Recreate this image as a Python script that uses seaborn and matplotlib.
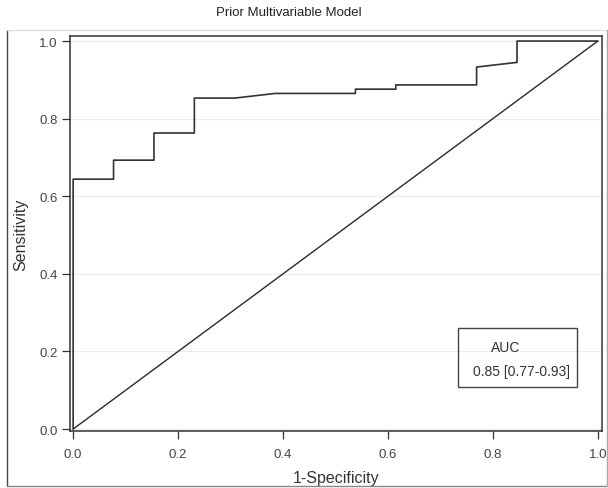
import numpy as np
import pandas as pd
import matplotlib
matplotlib.use("Agg")
import matplotlib.pyplot as plt
from matplotlib.patches import Rectangle
from matplotlib.lines import Line2D
import seaborn as sns

# ROC curve
fpr = [0.0, 0.0, 0.077, 0.077, 0.154, 0.154, 0.231, 0.231, 0.308, 0.385,
       0.538, 0.538, 0.615, 0.615, 0.769, 0.769, 0.846, 0.846, 1.0]
tpr = [0.0, 0.644, 0.644, 0.693, 0.693, 0.763, 0.763, 0.853, 0.853, 0.865,
       0.865, 0.876, 0.876, 0.887, 0.887, 0.933, 0.945, 1.0, 1.0]
ref_line = [0.0, 1.0]
ticks = [0.0, 0.2, 0.4, 0.6, 0.8, 1.0]
tick_labels = ["0.0", "0.2", "0.4", "0.6", "0.8", "1.0"]
title = "Prior Multivariable Model"
auc_header = "AUC"
auc_text = "0.85 [0.77-0.93]"

sns.set_theme(style="white")
plt.rcParams['font.family'] = ['Liberation Sans', 'DejaVu Sans']

fig = plt.figure(figsize=(6.08, 4.89), dpi=100)
ax = fig.add_axes([70/608, 57/489, 532/608, 395/489])

roc = pd.DataFrame({"fpr": fpr, "tpr": tpr})
ax.plot(ref_line, ref_line, color='#2a2a2a', linewidth=1.0, zorder=2)
sns.lineplot(data=roc, x="fpr", y="tpr", sort=False, estimator=None,
             color='#333333', linewidth=1.2, ax=ax, zorder=3)

ax.set_xlim(-0.006, 1.008)
ax.set_ylim(-0.005, 1.013)
ax.set_xticks(ticks)
ax.set_xticklabels(tick_labels)
ax.set_yticks(ticks)
ax.set_yticklabels(tick_labels)
ax.yaxis.grid(True, color='#ececec', linewidth=0.8)
ax.xaxis.grid(False)
ax.tick_params(axis='both', which='major', direction='out', length=6, width=0.9,
               color='#333333', labelcolor='#444444', labelsize=9.5)
ax.tick_params(axis='x', pad=6, bottom=True)
ax.tick_params(axis='y', pad=3, left=True)
for sp in ax.spines.values():
    sp.set_color('#333333')
    sp.set_linewidth(1.1)

ax.set_xlabel("1-Specificity", fontsize=11.5, color='#333333')
ax.set_ylabel("Sensitivity", fontsize=11.5, color='#333333')
ax.xaxis.set_label_coords(0.5, -0.098)
ax.yaxis.set_label_coords(-0.078, 0.5)

# AUC legend box
ax.add_patch(Rectangle((0.733, 0.108), 0.227, 0.152, fill=False,
                       edgecolor='#444444', linewidth=1.0, zorder=4))
ax.text(0.825, 0.212, auc_header, fontsize=10, color='#333333', ha='center', va='center')
ax.text(0.855, 0.150, auc_text, fontsize=10, color='#333333', ha='center', va='center')

fig.text(289/608, 1 - 13/489, title, fontsize=9.5, color='#222222', ha='center', va='center')

# outer frame
fig.add_artist(Line2D([7/608, 7/608], [1 - 31/489, 1 - 487/489], transform=fig.transFigure,
                      color='#444444', linewidth=1.0))
fig.add_artist(Line2D([7/608, 607/608], [1 - 31/489, 1 - 31/489], transform=fig.transFigure,
                      color='#dddddd', linewidth=1.0))
fig.add_artist(Line2D([7/608, 607/608], [1 - 487/489, 1 - 487/489], transform=fig.transFigure,
                      color='#888888', linewidth=1.0))
fig.add_artist(Line2D([607/608, 607/608], [1 - 31/489, 1 - 487/489], transform=fig.transFigure,
                      color='#aaaaaa', linewidth=1.0))

fig.savefig("out.png", dpi=100)
